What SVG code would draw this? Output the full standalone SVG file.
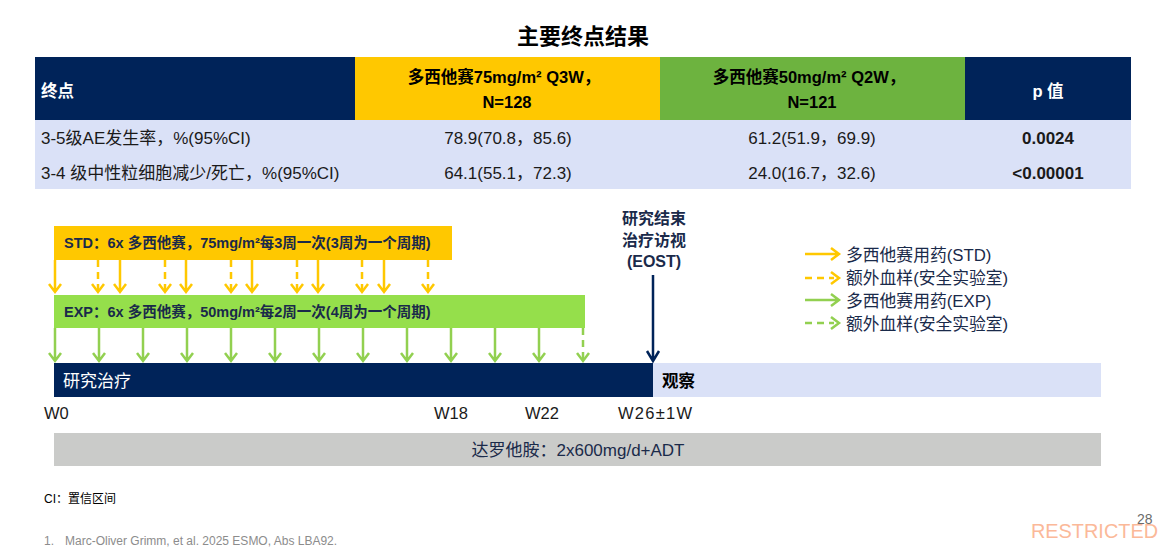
<svg xmlns="http://www.w3.org/2000/svg" width="1163" height="549" viewBox="0 0 1163 549">
<style>
text{font-family:"Liberation Sans","Noto Sans CJK SC",sans-serif;}
.hd{font-size:16.5px;font-weight:bold;}
.cell{font-size:17px;fill:#1a1a1a;}
.ya{stroke:#FFC800;stroke-width:2.5;fill:none;}
.ga{stroke:#92D050;stroke-width:2.5;fill:none;}
.dash{stroke-dasharray:7,5;}
.lg{font-size:16.8px;fill:#1a2a4a;}
</style>
<rect width="1163" height="549" fill="#fff"/>
<text x="583" y="44" text-anchor="middle" font-size="22" font-weight="bold" fill="#000">主要终点结果</text>

<g id="table">
<rect x="35" y="57" width="320" height="63" fill="#002359"/>
<rect x="355" y="57" width="305" height="63" fill="#FFC800"/>
<rect x="660" y="57" width="305" height="63" fill="#6DB33F"/>
<rect x="965" y="57" width="166" height="63" fill="#002359"/>
<rect x="35" y="120" width="1096" height="69" fill="#DAE1F7"/>
<text x="41" y="97" class="hd" fill="#fff">终点</text>
<text x="504" y="83" class="hd" text-anchor="middle" fill="#000">多西他赛75mg/m² Q3W，</text>
<text x="507" y="108" class="hd" text-anchor="middle" fill="#000">N=128</text>
<text x="809" y="83" class="hd" text-anchor="middle" fill="#000">多西他赛50mg/m² Q2W，</text>
<text x="812" y="108" class="hd" text-anchor="middle" fill="#000">N=121</text>
<text x="1048" y="97" class="hd" text-anchor="middle" fill="#fff">p 值</text>
<text x="41" y="144" class="cell">3-5级AE发生率，%(95%CI)</text>
<text x="41" y="179" class="cell">3-4 级中性粒细胞减少/死亡，%(95%CI)</text>
<text x="508" y="144" class="cell" text-anchor="middle">78.9(70.8，85.6)</text>
<text x="508" y="179" class="cell" text-anchor="middle">64.1(55.1，72.3)</text>
<text x="812" y="144" class="cell" text-anchor="middle">61.2(51.9，69.9)</text>
<text x="812" y="179" class="cell" text-anchor="middle">24.0(16.7，32.6)</text>
<text x="1048" y="144" class="cell" text-anchor="middle" font-weight="bold" fill="#000" font-size="16">0.0024</text>
<text x="1048" y="179" class="cell" text-anchor="middle" font-weight="bold" fill="#000" font-size="16">&lt;0.00001</text>
</g>

<g id="std-bar">
<rect x="54" y="226" width="398" height="34" fill="#FFC800"/>
<text x="64" y="248" font-size="14.5" font-weight="bold" fill="#1a2a4a">STD：6x 多西他赛，75mg/m²每3周一次(3周为一个周期)</text>
</g>
<g id="exp-bar">
<rect x="54" y="295" width="531" height="33" fill="#95DF4B"/>
<text x="64" y="317" font-size="14.5" font-weight="bold" fill="#1a2a4a">EXP：6x 多西他赛，50mg/m²每2周一次(4周为一个周期)</text>
</g>
<g id="treatment-bar">
<rect x="54" y="363" width="599" height="34" fill="#002359"/>
<text x="63" y="387" font-size="17" fill="#fff">研究治疗</text>
</g>
<g id="observation-bar">
<rect x="653" y="363" width="448" height="34" fill="#DAE1F7"/>
<text x="662" y="387" font-size="16.5" font-weight="bold" fill="#000">观察</text>
</g>
<g id="drug-bar">
<rect x="54" y="433" width="1047" height="33" fill="#CACBC9"/>
<text x="578" y="456" font-size="17" text-anchor="middle" fill="#1a2a4a">达罗他胺：2x600mg/d+ADT</text>
</g>
<g id="eost">
<text x="654" y="224" font-size="16" font-weight="bold" text-anchor="middle" fill="#1a2a4a">研究结束</text>
<text x="654" y="246" font-size="16" font-weight="bold" text-anchor="middle" fill="#1a2a4a">治疗访视</text>
<text x="654" y="267" font-size="16" font-weight="bold" text-anchor="middle" fill="#1a2a4a">(EOST)</text>
</g>
<g id="week-labels" font-size="16.5" fill="#1a1a1a">
<text x="44" y="419">W0</text>
<text x="434" y="419">W18</text>
<text x="525" y="419">W22</text>
<text x="618" y="419" textLength="74" lengthAdjust="spacing">W26±1W</text>
</g>

<g id="connectors">
<g class="ya">
<path d="M55 260V291M49 284L55 292L61 284"/>
<path d="M120 260V291M114 284L120 292L126 284"/>
<path d="M186 260V291M180 284L186 292L192 284"/>
<path d="M252 260V291M246 284L252 292L258 284"/>
<path d="M318 260V291M312 284L318 292L324 284"/>
<path d="M384 260V291M378 284L384 292L390 284"/>
</g>
<g class="ya">
<path class="dash" d="M98 260V291"/><path d="M92 284L98 292L104 284"/>
<path class="dash" d="M165 260V291"/><path d="M159 284L165 292L171 284"/>
<path class="dash" d="M231 260V291"/><path d="M225 284L231 292L237 284"/>
<path class="dash" d="M297 260V291"/><path d="M291 284L297 292L303 284"/>
<path class="dash" d="M362 260V291"/><path d="M356 284L362 292L368 284"/>
<path class="dash" d="M428 260V291"/><path d="M422 284L428 292L434 284"/>
</g>
<g class="ga">
<path d="M55 328V360M49 353L55 361L61 353"/>
<path d="M99 328V360M93 353L99 361L105 353"/>
<path d="M143 328V360M137 353L143 361L149 353"/>
<path d="M187 328V360M181 353L187 361L193 353"/>
<path d="M231 328V360M225 353L231 361L237 353"/>
<path d="M275 328V360M269 353L275 361L281 353"/>
<path d="M319 328V360M313 353L319 361L325 353"/>
<path d="M363 328V360M357 353L363 361L369 353"/>
<path d="M407 328V360M401 353L407 361L413 353"/>
<path d="M451 328V360M445 353L451 361L457 353"/>
<path d="M495 328V360M489 353L495 361L501 353"/>
<path d="M539 328V360M533 353L539 361L545 353"/>
<path class="dash" d="M583 328V360"/><path d="M577 353L583 361L589 353"/>
</g>
<path d="M653 275V361M647 351L653 361L659 351" stroke="#002359" stroke-width="2.5" fill="none"/>
</g>

<g id="legend">
<path class="ya" d="M805 254H838M831 248L839 254L831 260"/>
<path class="ya dash" d="M805 278H834"/><path class="ya" d="M831 272L839 278L831 284"/>
<path class="ga" d="M805 300H838M831 294L839 300L831 306"/>
<path class="ga dash" d="M805 323H834"/><path class="ga" d="M831 317L839 323L831 329"/>
<text x="846" y="261" class="lg">多西他赛用药(STD)</text>
<text x="846" y="284" class="lg">额外血样(安全实验室)</text>
<text x="846" y="307" class="lg">多西他赛用药(EXP)</text>
<text x="846" y="330" class="lg">额外血样(安全实验室)</text>
</g>

<text x="44" y="503" font-size="12" fill="#000">CI：置信区间</text>
<text x="44" y="545" font-size="12" fill="#8c8c8c">1.</text>
<text x="65" y="545" font-size="12" fill="#8c8c8c">Marc-Oliver Grimm, et al. 2025 ESMO, Abs LBA92.</text>
<text x="1031" y="538" font-size="21" fill="#FBB999" textLength="127" lengthAdjust="spacingAndGlyphs">RESTRICTED</text>
<text x="1137" y="524" font-size="14" fill="#6b6b6b">28</text>
</svg>
